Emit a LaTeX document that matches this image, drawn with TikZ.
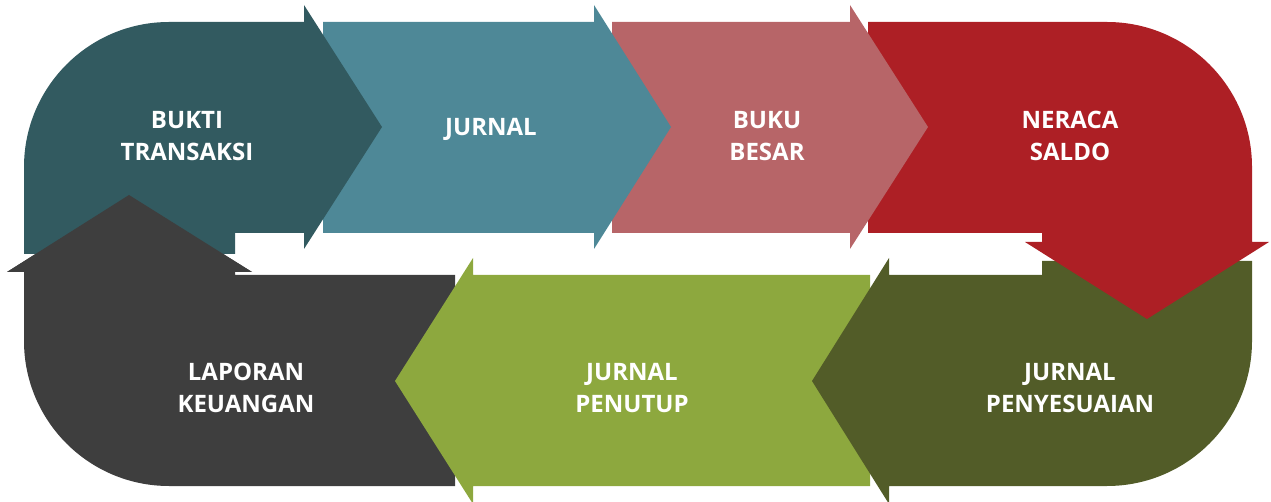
\documentclass[tikz,border=0pt]{standalone}
\usepackage{fontspec}
\setmainfont{Open Sans}
\definecolor{cdark}{HTML}{325A60}
\definecolor{cteal}{HTML}{4E8897}
\definecolor{cpink}{HTML}{B76568}
\definecolor{cred}{HTML}{AD1F25}
\definecolor{colive}{HTML}{525C28}
\definecolor{cgreen}{HTML}{8DA83E}
\definecolor{cgrey}{HTML}{3E3E3E}
\begin{document}
\begin{tikzpicture}[x=1pt,y=-1pt,
  lbl/.style={text=white,font=\bfseries\fontsize{24}{32}\selectfont,align=center,inner sep=0pt}]
\useasboundingbox (0,0) rectangle (1271,502);
\clip (0,0) rectangle (1271,502);
% 7 grey: laporan keuangan
\fill[cgrey] (455,275) -- (235,275) -- (235,272) -- (252,272) -- (129,195) -- (7,272) -- (24,272) -- (24,341) .. controls (24,421) and (89,486) .. (169,486) -- (455,486) -- cycle;
% 6 light green: jurnal penutup
\fill[cgreen] (870,275) -- (473,275) -- (473,258) -- (395,381) -- (473,504) -- (473,486) -- (870,486) -- cycle;
% 5 olive: jurnal penyesuaian
\fill[colive] (1252,261) -- (1042,261) -- (1042,275) -- (889,275) -- (889,258) -- (812,381) -- (889,504) -- (889,486) -- (1107,486) .. controls (1187,486) and (1252,421) .. (1252,341) -- cycle;
% 4 red: neraca saldo
\fill[cred] (868,22) -- (1107,22) .. controls (1187,22) and (1252,87) .. (1252,167) -- (1252,242) -- (1269,242) -- (1147,319) -- (1025,242) -- (1042,242) -- (1042,233) -- (868,233) -- cycle;
% 3 pink: buku besar
\fill[cpink] (612,22) -- (850,22) -- (850,5) -- (928,127) -- (850,249) -- (850,233) -- (612,233) -- cycle;
% 2 teal: jurnal
\fill[cteal] (323,22) -- (594,22) -- (594,5) -- (671,127) -- (594,249) -- (594,233) -- (323,233) -- cycle;
% 1 dark teal: bukti transaksi
\fill[cdark] (24,254) -- (24,167) .. controls (24,87) and (89,22) .. (169,22) -- (304,22) -- (304,5) -- (382,127) -- (304,249) -- (304,233) -- (235,233) -- (235,254) -- cycle;
% grey arrow head on top of shape 1
\fill[cgrey] (7,272) -- (129,195) -- (252,272) -- cycle;
% labels
\node[lbl] (bukti) at (187,136) {BUKTI\\TRANSAKSI};
\node[lbl] (jurnal) at (491,129) {JURNAL};
\node[lbl] (buku) at (767,136) {BUKU\\BESAR};
\node[lbl] (neraca) at (1070,136) {NERACA\\SALDO};
\node[lbl] (penyesuaian) at (1070,388) {JURNAL\\PENYESUAIAN};
\node[lbl] (penutup) at (632,388) {JURNAL\\PENUTUP};
\node[lbl] (laporan) at (246,388) {LAPORAN\\KEUANGAN};
\end{tikzpicture}
\end{document}
